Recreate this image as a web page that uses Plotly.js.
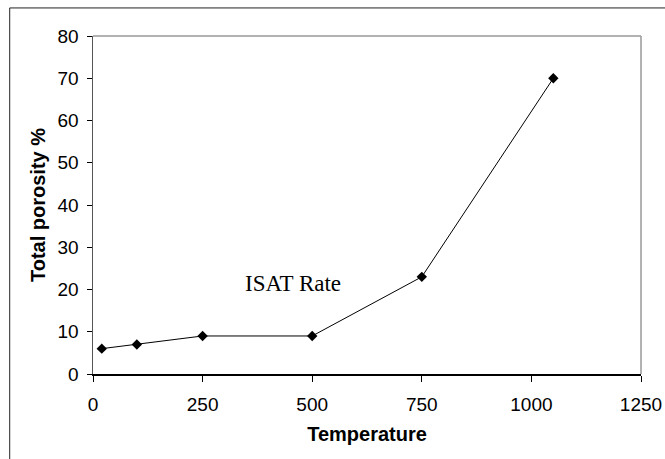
<!DOCTYPE html>
<html>
<head>
<meta charset="utf-8">
<script src="https://cdn.plot.ly/plotly-3.0.1.min.js"></script>
<style>
html,body{margin:0;padding:0;background:#fff;}
#chart{width:665px;height:459px;}
</style>
</head>
<body>
<div id="chart"></div>
<script>
const temperature = [20, 100, 250, 500, 750, 1050];
const porosity = [6, 7, 9, 9, 23, 70];
const xTicks = [0, 250, 500, 750, 1000, 1250];
const yTicks = [0, 10, 20, 30, 40, 50, 60, 70, 80];
const seriesLabel = "ISAT Rate";

const trace = {
  x: temperature,
  y: porosity,
  type: 'scatter',
  mode: 'lines+markers',
  line: {color: '#000', width: 1},
  marker: {symbol: 'diamond', size: 8, color: '#000'},
  hoverinfo: 'none',
  showlegend: false
};

const layout = {
  width: 665,
  height: 459,
  margin: {l: 93, r: 24, t: 36, b: 85},
  paper_bgcolor: '#fff',
  plot_bgcolor: '#fff',
  font: {family: 'Arial, Liberation Sans, sans-serif', color: '#000', size: 19},
  xaxis: {
    range: [0, 1250],
    tickvals: xTicks,
    ticktext: xTicks.map(String),
    ticks: 'outside', ticklen: 6, tickcolor: '#000', tickwidth: 1,
    ticklabelstandoff: 7,
    showline: true, linecolor: '#000', linewidth: 1.5,
    showgrid: false, zeroline: false,
    mirror: false,
    tickfont: {size: 19},
    title: {text: '<b>Temperature</b>', font: {size: 20}, standoff: 12}
  },
  yaxis: {
    range: [0, 80],
    tickvals: yTicks,
    ticktext: yTicks.map(String),
    ticks: 'outside', ticklen: 5, tickcolor: '#000', tickwidth: 1,
    ticklabelstandoff: 4,
    showline: true, linecolor: '#555', linewidth: 1.5,
    showgrid: false, zeroline: false,
    tickfont: {size: 19},
    title: {text: '<b>Total porosity %</b>', font: {size: 20}, standoff: 6}
  },
  shapes: [
    {type: 'line', xref: 'paper', yref: 'paper', x0: 0, x1: 1, y0: 1, y1: 1, line: {color: '#999', width: 1.5}},
    {type: 'line', xref: 'paper', yref: 'paper', x0: 1, x1: 1, y0: 0, y1: 1, line: {color: '#999', width: 1.5}},
    {type: 'line', xref: 'paper', yref: 'paper', x0: -0.152, x1: 1.1, y0: 1.083, y1: 1.083, line: {color: '#222', width: 1}},
    {type: 'line', xref: 'paper', yref: 'paper', x0: -0.152, x1: -0.152, y0: -0.3, y1: 1.083, line: {color: '#222', width: 1}}
  ],
  annotations: [
    {x: 456, y: 21.5, xref: 'x', yref: 'y', text: seriesLabel, showarrow: false,
     font: {family: 'Liberation Serif, Times New Roman, serif', size: 23, color: '#000'}}
  ]
};

Plotly.newPlot('chart', [trace], layout, {displayModeBar: false, staticPlot: true});
</script>
</body>
</html>
